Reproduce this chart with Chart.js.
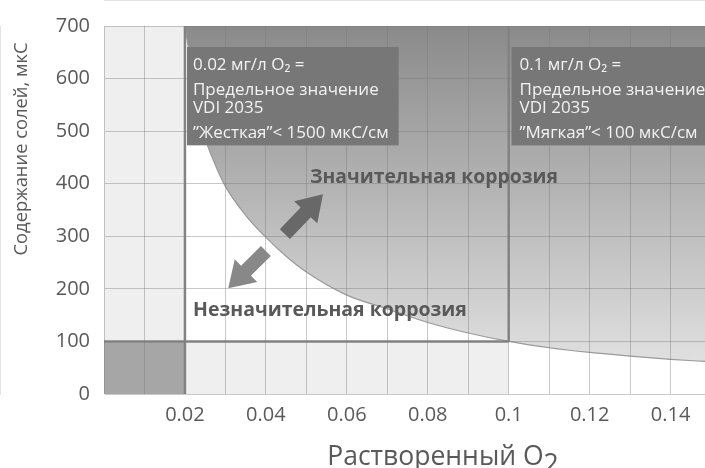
<!DOCTYPE html>
<html>
<head>
<meta charset="utf-8">
<script src="https://cdn.jsdelivr.net/npm/chart.js@4.4.1/dist/chart.umd.min.js"></script>
<style>
  html, body { margin: 0; padding: 0; background: #fff; }
</style>
</head>
<body>
<canvas id="chart" width="705" height="468"></canvas>
<script>
// boundary curve between "significant" and "insignificant" corrosion
const curveO2 = [0.02, 0.021, 0.022, 0.023, 0.0245, 0.027, 0.03, 0.035, 0.04, 0.045, 0.05, 0.06, 0.07, 0.08, 0.09, 0.1, 0.11, 0.12, 0.13, 0.14, 0.1485];
const curveSalt = [700, 650, 600, 560, 500, 445, 395, 340, 298, 262, 232, 188, 162, 136, 116, 100, 88, 79, 72, 66, 62];

// VDI 2035 limits
const limitO2 = [0.02, 0.1];
const limitSalt = 100;

// axis ranges and tick labels
const xMax = 0.1485;
const yMax = 700;
const xTickValues = [0.02, 0.04, 0.06, 0.08, 0.1, 0.12, 0.14];
const xTickLabels = ["0.02", "0.04", "0.06", "0.08", "0.1", "0.12", "0.14"];

// texts
const boxHard = ["0.02 мг/л O\u2082 =", "Предельное значение", "VDI 2035", "\u201DЖесткая\u201D< 1500 мкС/см"];
const boxSoft = ["0.1 мг/л O\u2082 =", "Предельное значение", "VDI 2035", "\u201DМягкая\u201D< 100 мкС/см"];
const labelHigh = "Значительная коррозия";
const labelLow = "Незначительная коррозия";
const yTitle = "Содержание солей, мкС";
const xTitle = "Растворенный O";

const FONT = "'Open Sans', 'DejaVu Sans', sans-serif";
const TEXT = "#595959";

const curveData = curveO2.map((x, i) => ({ x, y: curveSalt[i] }));

// draw text squeezed to a given width (the original uses a narrower font)
function fitText(ctx, s, x, y, size, weight, width) {
  ctx.font = weight + " " + size + "px " + FONT;
  const w = ctx.measureText(s).width;
  if (w > width) ctx.font = weight + " " + (size * width / w).toFixed(2) + "px " + FONT;
  ctx.fillText(s, x, y);
}

const overlay = {
  id: "overlay",
  afterDraw(chart) {
    const { ctx, scales } = chart;
    const px = v => scales.x.getPixelForValue(v);
    const py = v => scales.y.getPixelForValue(v);

    // annotation boxes
    const drawBox = (lines, x0, x1, y0, y1, padX) => {
      const l = px(x0), r = x1 === null ? chart.chartArea.right : px(x1);
      const t = py(y0), b = py(y1);
      ctx.fillStyle = "#777777";
      ctx.fillRect(l, t, r - l, b - t);
      ctx.fillStyle = "#f2f2f2";
      ctx.font = "17px " + FONT;
      ctx.textBaseline = "middle";
      ctx.textAlign = "left";
      const offs = [18, 43, 61, 86];
      lines.forEach((s, i) => ctx.fillText(s, l + padX, t + offs[i]));
    };
    drawBox(boxHard, 0.0205, 0.0728, 660, 473, 6);
    drawBox(boxSoft, 0.1007, null, 660, 473, 8);

    // arrows
    const arrow = (x0, y0, x1, y1, color) => {
      const ax = px(x0), ay = py(y0), bx = px(x1), by = py(y1);
      const len = Math.hypot(bx - ax, by - ay);
      const ux = (bx - ax) / len, uy = (by - ay) / len;
      const nx = -uy, ny = ux;
      const sw = 7, hw = 16, hl = 25;
      const cx = bx - ux * hl, cy = by - uy * hl;
      ctx.beginPath();
      ctx.moveTo(ax + nx * sw, ay + ny * sw);
      ctx.lineTo(cx + nx * sw, cy + ny * sw);
      ctx.lineTo(cx + nx * hw, cy + ny * hw);
      ctx.lineTo(bx, by);
      ctx.lineTo(cx - nx * hw, cy - ny * hw);
      ctx.lineTo(cx - nx * sw, cy - ny * sw);
      ctx.lineTo(ax - nx * sw, ay - ny * sw);
      ctx.closePath();
      ctx.fillStyle = color;
      ctx.fill();
    };
    arrow(0.0447, 304, 0.0541, 380, "#686868");
    arrow(0.04, 272, 0.0307, 201, "#888888");

    // region labels
    ctx.fillStyle = TEXT;
    ctx.textBaseline = "middle";
    ctx.textAlign = "left";
    fitText(ctx, labelHigh, px(0.0509), py(411), 20, "bold", 248);
    fitText(ctx, labelLow, px(0.022), py(158), 20, "bold", 274);

    // axis titles
    ctx.save();
    ctx.textAlign = "center";
    ctx.textBaseline = "middle";
    ctx.translate(22, 149);
    ctx.rotate(-Math.PI / 2);
    fitText(ctx, yTitle, 0, 0, 19, "normal", 213);
    ctx.restore();

    ctx.font = "26.5px " + FONT;
    ctx.textAlign = "left";
    ctx.textBaseline = "alphabetic";
    const w1 = ctx.measureText(xTitle).width;
    const w2 = ctx.measureText("2").width;
    const x0 = 443 - (w1 + w2) / 2;
    ctx.fillText(xTitle, x0, 465);
    ctx.fillText("2", x0 + w1, 473);
  }
};

new Chart(document.getElementById("chart"), {
  type: "scatter",
  data: {
    datasets: [
      {
        // left column (below 0.02 mg/l)
        data: [{ x: 0, y: yMax }, { x: limitO2[0], y: yMax }],
        showLine: true, fill: "origin", backgroundColor: "#efefef",
        borderWidth: 0, pointRadius: 0, order: 5
      },
      {
        data: [{ x: 0, y: limitSalt }, { x: limitO2[0], y: limitSalt }],
        showLine: true, fill: "origin", backgroundColor: "#a6a6a6",
        borderWidth: 0, pointRadius: 0, order: 4
      },
      {
        data: [{ x: limitO2[0], y: limitSalt }, { x: limitO2[1], y: limitSalt }],
        showLine: true, fill: "origin", backgroundColor: "#efefef",
        borderWidth: 0, pointRadius: 0, order: 4
      },
      {
        data: curveData,
        showLine: true, fill: "end",
        backgroundColor: ctx => {
          const a = ctx.chart.chartArea;
          if (!a) return "#bbbbbb";
          const g = ctx.chart.ctx.createLinearGradient(0, a.top, 0, a.bottom);
          g.addColorStop(0, "#8a8a8a");
          g.addColorStop(1, "#e8e8e8");
          return g;
        },
        borderColor: "#9a9a9a", borderWidth: 1.2, pointRadius: 0,
        tension: 0.4, cubicInterpolationMode: "monotone", order: 3
      },
      {
        data: [{ x: limitO2[0], y: 0 }, { x: limitO2[0], y: yMax }],
        showLine: true, fill: false, borderColor: "#858585", borderWidth: 2.5, pointRadius: 0, order: 1
      },
      {
        data: [{ x: limitO2[1], y: limitSalt }, { x: limitO2[1], y: yMax }],
        showLine: true, fill: false, borderColor: "#858585", borderWidth: 2.5, pointRadius: 0, order: 1
      },
      {
        data: [{ x: 0, y: limitSalt }, { x: limitO2[1], y: limitSalt }],
        showLine: true, fill: false, borderColor: "#858585", borderWidth: 2.5, pointRadius: 0, order: 1
      }
    ]
  },
  options: {
    responsive: false,
    animation: false,
    layout: { padding: { top: 23, right: 0, left: 0, bottom: 0 } },
    plugins: { legend: { display: false }, tooltip: { enabled: false } },
    scales: {
      x: {
        type: "linear", min: 0, max: xMax,
        grid: { color: "rgba(120,120,120,0.4)", drawTicks: false, z: 1 },
        border: { color: "#c8c8c8" },
        ticks: {
          stepSize: 0.01, autoSkip: false, includeBounds: false, maxRotation: 0, padding: 9,
          color: TEXT, font: { size: 20, family: FONT },
          callback: v => {
            const i = xTickValues.findIndex(t => Math.abs(t - v) < 1e-6);
            return i >= 0 ? xTickLabels[i] : "";
          }
        },
        afterFit: s => { s.height = 74; }
      },
      y: {
        min: 0, max: yMax,
        grid: { color: "rgba(120,120,120,0.4)", drawTicks: false, z: 1 },
        border: { color: "#c8c8c8" },
        ticks: { stepSize: 100, padding: 14, color: TEXT, font: { size: 20, family: FONT } },
        afterFit: s => { s.width = 104; }
      }
    }
  },
  plugins: [overlay]
});
</script>
</body>
</html>
